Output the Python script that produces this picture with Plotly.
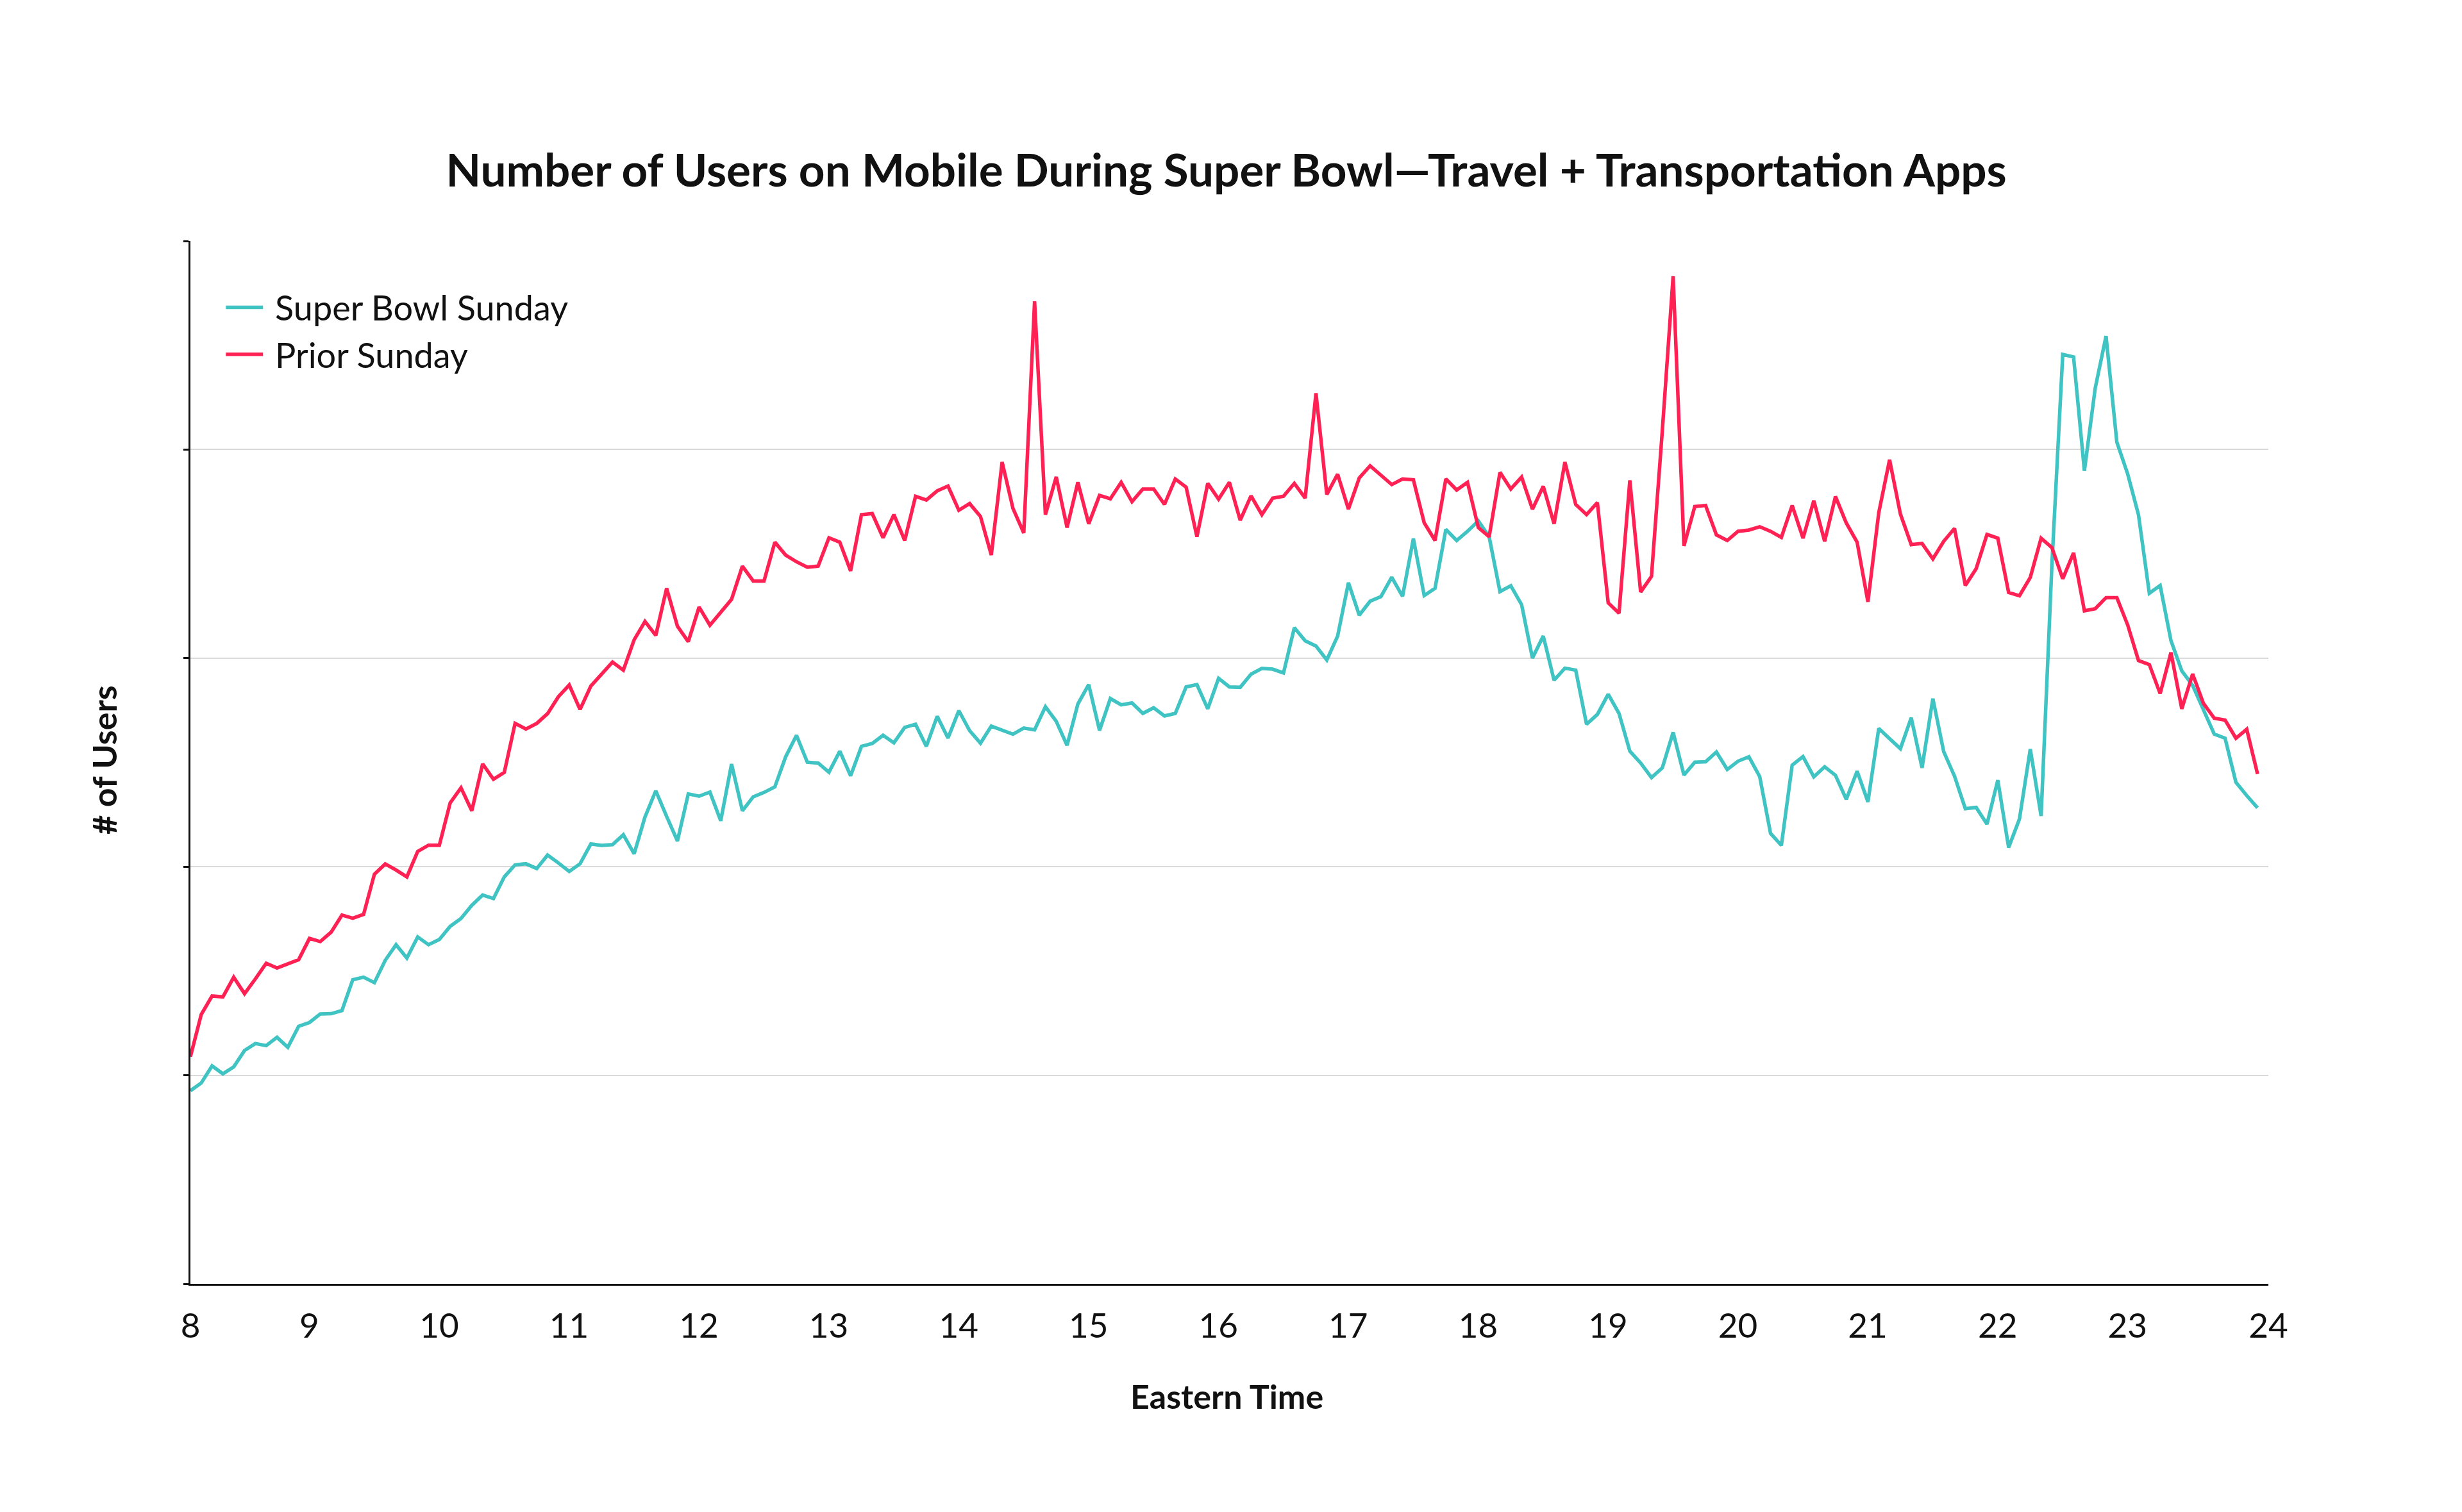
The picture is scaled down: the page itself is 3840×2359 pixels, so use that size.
import plotly.graph_objects as go

# Time axis: 5-minute intervals from 8:00 to 23:55 (Eastern Time, hours)
hour_labels = list(range(8, 25))
# label anchor positions as placed in the source chart (inner labels sit slightly left)
label_positions = [8.0] + [h - 0.085 for h in range(9, 24)] + [24.0]
minutes_step = 5
n_points = 192
hours = [8 + i * minutes_step / 60 for i in range(n_points)]

# Super Bowl Sunday (relative number of users, arbitrary units)
super_bowl = [
    0.926, 0.963, 1.045, 1.007, 1.040, 1.119, 1.152, 1.142, 1.182, 1.134, 1.235, 1.253,
    1.294, 1.295, 1.310, 1.458, 1.470, 1.444, 1.551, 1.626, 1.562, 1.663, 1.626, 1.651,
    1.714, 1.752, 1.815, 1.864, 1.847, 1.951, 2.009, 2.014, 1.991, 2.056, 2.018, 1.977,
    2.014, 2.109, 2.102, 2.106, 2.153, 2.062, 2.238, 2.364, 2.241, 2.123, 2.349, 2.338,
    2.358, 2.220, 2.492, 2.268, 2.335, 2.356, 2.383, 2.527, 2.630, 2.501, 2.497, 2.453,
    2.554, 2.436, 2.577, 2.591, 2.630, 2.594, 2.668, 2.683, 2.577, 2.721, 2.617, 2.748,
    2.652, 2.592, 2.674, 2.653, 2.635, 2.665, 2.656, 2.767, 2.697, 2.582, 2.780, 2.873,
    2.653, 2.806, 2.776, 2.785, 2.735, 2.762, 2.723, 2.735, 2.862, 2.873, 2.757, 2.903,
    2.862, 2.860, 2.923, 2.951, 2.947, 2.929, 3.146, 3.083, 3.058, 2.991, 3.106, 3.362,
    3.206, 3.273, 3.295, 3.388, 3.296, 3.573, 3.300, 3.335, 3.617, 3.564, 3.608, 3.658,
    3.582, 3.319, 3.347, 3.256, 3.000, 3.106, 2.894, 2.952, 2.942, 2.683, 2.730, 2.827,
    2.735, 2.554, 2.497, 2.427, 2.474, 2.644, 2.439, 2.501, 2.503, 2.550, 2.466, 2.506,
    2.527, 2.432, 2.160, 2.102, 2.487, 2.528, 2.431, 2.479, 2.438, 2.323, 2.458, 2.311,
    2.663, 2.614, 2.566, 2.714, 2.474, 2.806, 2.552, 2.434, 2.278, 2.284, 2.204, 2.415,
    2.092, 2.229, 2.564, 2.243, 3.450, 4.456, 4.444, 3.898, 4.294, 4.544, 4.035, 3.883,
    3.687, 3.311, 3.348, 3.084, 2.939, 2.869, 2.748, 2.636, 2.616, 2.405, 2.341, 2.282,
]

# Prior Sunday
prior_sunday = [
    1.089, 1.291, 1.380, 1.376, 1.470, 1.391, 1.462, 1.537, 1.514, 1.532, 1.554, 1.656,
    1.641, 1.686, 1.768, 1.753, 1.771, 1.964, 2.013, 1.984, 1.951, 2.073, 2.103, 2.103,
    2.306, 2.378, 2.268, 2.493, 2.419, 2.452, 2.687, 2.660, 2.687, 2.734, 2.815, 2.871,
    2.754, 2.866, 2.921, 2.981, 2.942, 3.088, 3.176, 3.109, 3.335, 3.153, 3.079, 3.245,
    3.158, 3.222, 3.282, 3.441, 3.370, 3.370, 3.556, 3.494, 3.462, 3.436, 3.441, 3.577,
    3.556, 3.418, 3.688, 3.693, 3.577, 3.688, 3.564, 3.776, 3.758, 3.802, 3.825, 3.709,
    3.741, 3.679, 3.494, 3.940, 3.718, 3.600, 4.711, 3.688, 3.869, 3.626, 3.843, 3.644,
    3.780, 3.764, 3.843, 3.750, 3.811, 3.811, 3.737, 3.859, 3.820, 3.582, 3.838, 3.762,
    3.843, 3.661, 3.778, 3.688, 3.767, 3.776, 3.838, 3.767, 4.270, 3.785, 3.882, 3.714,
    3.864, 3.922, 3.878, 3.832, 3.859, 3.855, 3.649, 3.564, 3.859, 3.806, 3.843, 3.626,
    3.582, 3.891, 3.811, 3.868, 3.714, 3.824, 3.644, 3.940, 3.737, 3.688, 3.746, 3.265,
    3.215, 3.852, 3.317, 3.392, 4.090, 4.831, 3.538, 3.727, 3.732, 3.591, 3.564, 3.608,
    3.614, 3.630, 3.608, 3.579, 3.732, 3.575, 3.755, 3.560, 3.775, 3.648, 3.556, 3.270,
    3.697, 3.951, 3.691, 3.544, 3.550, 3.476, 3.560, 3.622, 3.348, 3.429, 3.593, 3.575,
    3.315, 3.299, 3.387, 3.575, 3.530, 3.380, 3.505, 3.227, 3.237, 3.290, 3.290, 3.159,
    2.988, 2.969, 2.830, 3.027, 2.757, 2.924, 2.783, 2.712, 2.703, 2.616, 2.659, 2.444,
]

series_names = ["Super Bowl Sunday", "Prior Sunday"]
series_colors = ["#3FC3C3", "#FF2153"]

title_text = "Number of Users on Mobile During Super Bowl\u2014Travel + Transportation Apps"
x_title = "Eastern Time"
y_title = "# of Users"
y_grid = [0, 1, 2, 3, 4, 5]

W, H = 3840, 2359
ML, MR, MT, MB = 289, 310, 368, 364
plot_w = W - ML - MR
plot_h = H - MT - MB

FONT = "Lato"

fig = go.Figure()
for name, ys, col in zip(series_names, [super_bowl, prior_sunday], series_colors):
    fig.add_trace(go.Scatter(
        x=hours, y=ys, mode="lines", name="\u00a0" + name,
        line=dict(color=col, width=5.5),
    ))

fig.update_layout(
    width=W, height=H,
    margin=dict(l=ML, r=MR, t=MT, b=MB, pad=0),
    paper_bgcolor="white", plot_bgcolor="white",
    font=dict(family=FONT, color="#111111", size=50),
    title=dict(
        text="<b>" + title_text + "</b>",
        x=0.496, xref="container", xanchor="center",
        y=1 - 258 / H, yref="container", yanchor="middle",
        font=dict(family=FONT, size=71, color="#111111"),
    ),
    showlegend=True,
    legend=dict(
        x=0.0155, y=0.962, xanchor="left", yanchor="top",
        bgcolor="rgba(0,0,0,0)",
        font=dict(family=FONT, size=54, color="#111111"),
        tracegroupgap=0, itemwidth=58,
    ),
    xaxis=dict(
        range=[8, 24], tickvals=label_positions, ticktext=[str(h) for h in hour_labels],
        showgrid=False, zeroline=False,
        showline=True, linecolor="#111111", linewidth=3,
        ticks="", tickfont=dict(family=FONT, size=53, color="#111111"),
        ticklabelstandoff=17,
    ),
    yaxis=dict(
        range=[0, 5], tickvals=y_grid, showticklabels=False,
        showgrid=True, gridcolor="#DADADA", gridwidth=2,
        zeroline=False,
        showline=True, linecolor="#111111", linewidth=3,
        ticks="outside", ticklen=8, tickwidth=3, tickcolor="#111111",
    ),
    annotations=[
        dict(
            text="<b>" + x_title + "</b>", xref="paper", yref="paper",
            x=(1905 - ML) / plot_w, y=-(2170 - (H - MB)) / plot_h,
            xanchor="center", yanchor="middle", showarrow=False,
            font=dict(family=FONT, size=52, color="#111111"),
        ),
        dict(
            text="<b>" + y_title + "</b>", xref="paper", yref="paper",
            x=(154 - ML) / plot_w, y=((H - MB) - 1178) / plot_h,
            xanchor="center", yanchor="middle", showarrow=False, textangle=-90,
            font=dict(family=FONT, size=52, color="#111111"),
        ),
    ],
)

fig.write_html("out.html")
